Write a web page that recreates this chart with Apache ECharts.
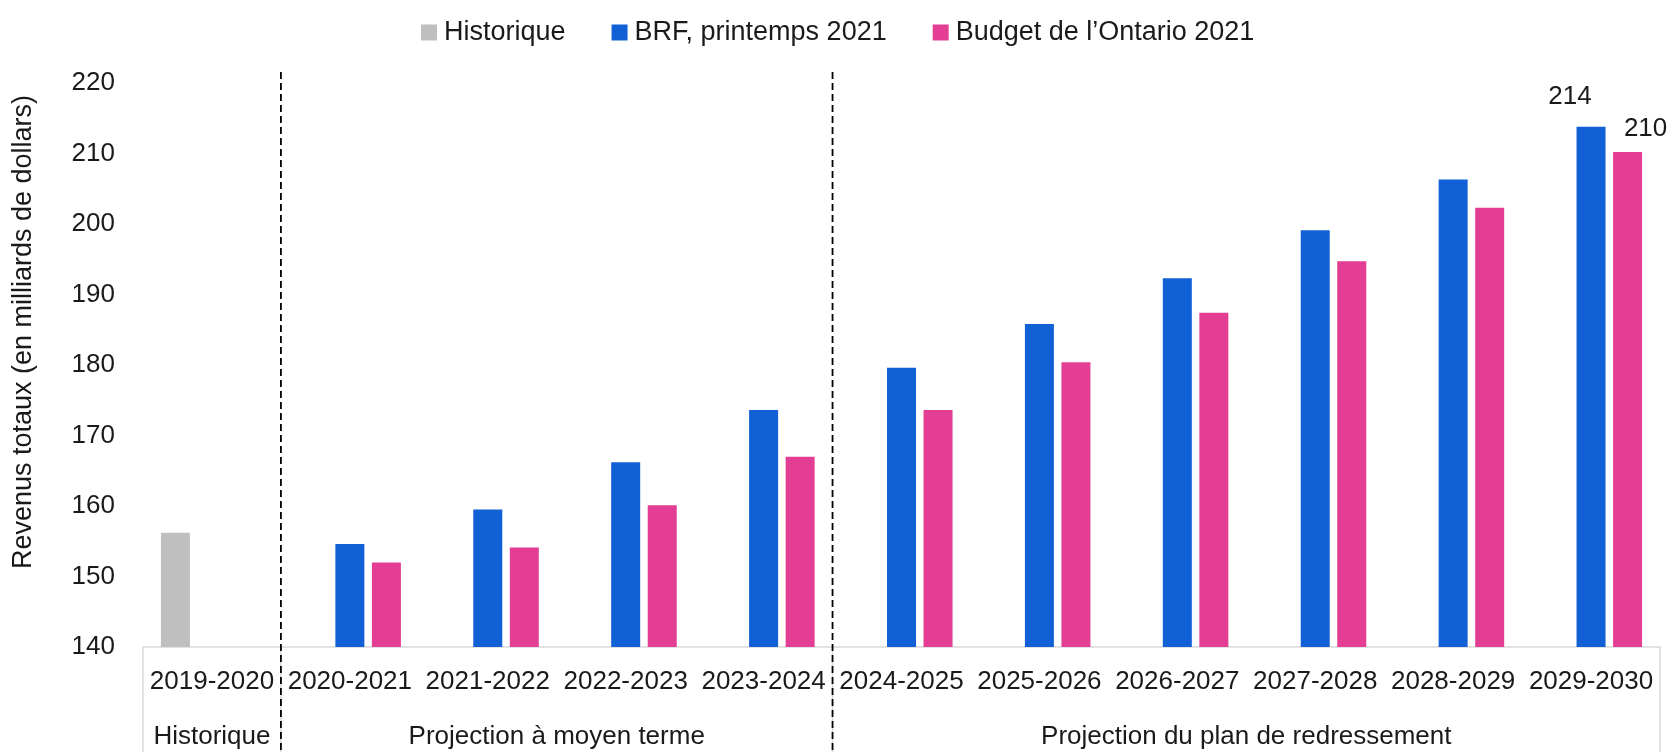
<!DOCTYPE html>
<html>
<head>
<meta charset="utf-8">
<script src="https://cdn.jsdelivr.net/npm/echarts@6/dist/echarts.min.js"></script>
<style>
html,body{margin:0;padding:0;background:#fff;}
#chart{width:1670px;height:752px;}
</style>
</head>
<body>
<div id="chart"></div>
<script>
// ---- data ----
const categories = ['2019-2020','2020-2021','2021-2022','2022-2023','2023-2024','2024-2025','2025-2026','2026-2027','2027-2028','2028-2029','2029-2030'];
const historique = [156.2, null, null, null, null, null, null, null, null, null, null];
const brf        = [null, 154.6, 159.5, 166.2, 173.6, 179.6, 185.8, 192.3, 199.1, 206.3, 213.8];
const budget     = [null, 152.0, 154.1, 160.1, 167.0, 173.6, 180.4, 187.4, 194.7, 202.3, 210.2];
const seriesNames = ['Historique', 'BRF, printemps 2021', "Budget de l’Ontario 2021"];
const groupNames = ['Historique', 'Projection à moyen terme', 'Projection du plan de redressement'];
const groupBounds = [0, 1, 5, 11];   // category index boundaries of the groups
const yMin = 140, yMax = 220, yStep = 10;

const FONT = '"Liberation Sans", Arial, sans-serif';
const TXT = '#1a1a1a';
const colors = ['#BFBFBF', '#1160D6', '#E33D94'];

const chart = echarts.init(document.getElementById('chart'), null, {renderer: 'canvas'});

function withLastLabel(arr, offset) {
  return arr.map((v, i) => {
    if (i === arr.length - 1 && v != null) {
      return {value: v, label: {show: true, position: 'top', offset: offset,
        formatter: p => Math.round(p.value), fontSize: 26, fontFamily: FONT, color: TXT}};
    }
    return v;
  });
}

const option = {
  animation: false,
  textStyle: {fontFamily: FONT},
  color: colors,
  legend: {
    top: 14, left: 416,
    itemWidth: 16, itemHeight: 16, itemGap: 46,
    icon: 'rect',
    textStyle: {fontSize: 27, fontFamily: FONT, color: TXT, padding: [0,0,0,2]},
    data: seriesNames
  },
  grid: {left: 143, right: 10, top: 83, bottom: 105, containLabel: false},
  xAxis: {
    type: 'category',
    data: categories,
    boundaryGap: true,
    axisLine: {lineStyle: {color: '#d9d9d9', width: 1.5}},
    axisTick: {show: false},
    axisLabel: {fontSize: 26, fontFamily: FONT, color: TXT, margin: 22, interval: 0}
  },
  yAxis: {
    type: 'value',
    min: yMin, max: yMax, interval: yStep,
    name: 'Revenus totaux (en milliards de dollars)',
    nameLocation: 'middle',
    nameRotate: 90,
    nameGap: 106,
    nameTextStyle: {fontSize: 27, fontFamily: FONT, color: TXT, padding: [0,0,0,66]},
    axisLine: {show: false},
    axisTick: {show: false},
    splitLine: {show: false},
    axisLabel: {fontSize: 26, fontFamily: FONT, color: TXT, margin: 28}
  },
  series: [
    {name: seriesNames[0], type: 'bar', data: historique, barWidth: 29, barGap: '26%'},
    {name: seriesNames[1], type: 'bar', data: withLastLabel(brf, [-21, -12]), barWidth: 29, barGap: '26%'},
    {name: seriesNames[2], type: 'bar', data: withLastLabel(budget, [18, -5]), barWidth: 29, barGap: '26%'}
  ]
};
chart.setOption(option);

// ---- annotations positioned through the chart's own scales ----
const c0 = chart.convertToPixel({xAxisIndex: 0}, 0);
const c1 = chart.convertToPixel({xAxisIndex: 0}, 1);
const w = c1 - c0;
const bx = k => c0 + (k - 0.5) * w;
const yAxisPx = chart.convertToPixel({yAxisIndex: 0}, yMin);
const yTopPx = chart.convertToPixel({yAxisIndex: 0}, yMax);
const H = chart.getHeight();

const graphics = [];
// light grey box lines below the axis
groupBounds.forEach(k => {
  graphics.push({type: 'line', z: 1, shape: {x1: bx(k), y1: yAxisPx, x2: bx(k), y2: H},
    style: {stroke: '#d9d9d9', lineWidth: 1.5}});
});
// dashed separators
groupBounds.slice(1, -1).forEach(k => {
  graphics.push({type: 'line', z: 10, shape: {x1: bx(k), y1: yTopPx - 11, x2: bx(k), y2: H},
    style: {stroke: '#000', lineWidth: 1.8, lineDash: [7, 4]}});
});
// group labels
groupNames.forEach((name, i) => {
  const cx = (bx(groupBounds[i]) + bx(groupBounds[i + 1])) / 2;
  graphics.push({type: 'text', z: 10, x: cx, y: yAxisPx + 90,
    style: {text: name, font: '26px ' + FONT, fill: TXT, align: 'center', verticalAlign: 'middle'}});
});
chart.setOption({graphic: graphics});
</script>
</body>
</html>
